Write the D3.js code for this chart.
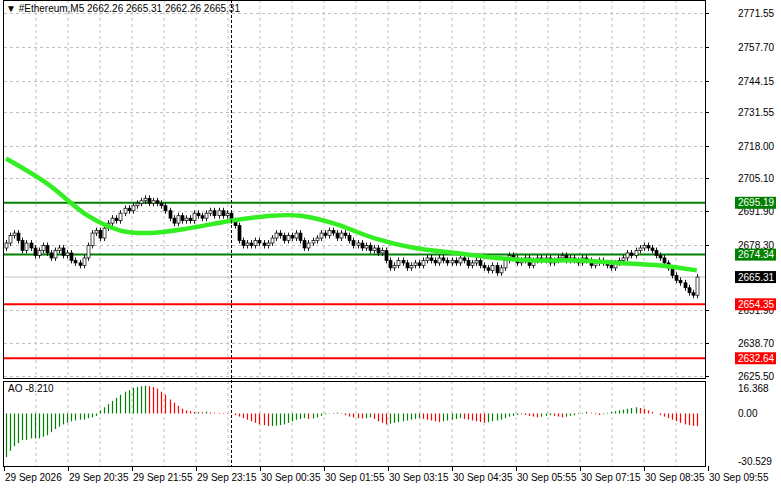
<!DOCTYPE html>
<html><head><meta charset="utf-8">
<script src="https://cdn.jsdelivr.net/npm/d3@7"></script>
<style>body{margin:0;background:#fff}text{font-family:"Liberation Sans",Arial,sans-serif;font-size:10px}</style>
</head><body>
<script>
// closes per 5-minute bar
var closes = [2679,2682,2683,2680,2676,2679,2677,
 2674,2676,2678,2675,2673,2676,2677,2674,2675,2672,2671,2670,
 2673,2678,2683,2684,2681,2685,
 2687,2689,2688,2691,2693,2692,2694,2695,
 2696,2697,2695,2696,2695,2694,2692,
 2689,2687,2690,2688,2689,2688,2691,2690,2689,
 2691,2692,2690,2692,2690,2691,2688,
 2686,2680,2678,2679,2678,2680,2679,2678,
 2679,2681,2683,2682,2680,
 2682,2681,2683,2680,2677,
 2679,2680,2681,2683,2682,2684,2683,2681,2683,
 2682,2680,2678,2679,2677,2678,2676,2677,2675,2676,
 2672,2669,2670,2672,2671,
 2669,2670,2671,2670,2672,2673,2672,2671,2673,2672,
 2671,2672,2671,2673,2672,2670,2671,2672,2670,
 2669,2668,2670,2667,2669,
 2672,2674,2673,2671,2672,2673,2670,2672,2673,2672,
 2673,2671,2672,2673,2674,2672,2673,2672,2671,2673,2672,2670,2671,2672,2671,
 2670,2669,2671,2672,2673,2675,2674,2676,2677,
 2678,2677,2676,
 2674,2673,2671,2669,2666,
 2664,2663,2661,2659,2658,2665.31];
var firstOpen = 2677;
var ao = [-28,-24,-21,-19,-17,-17,-16,-16,-16,
 -15,-14,-12,-10,-8.5,-7,
 -6,-5,-4.5,-4,-4,-3,-2.5,-1.5,
 2,4,6,8,10,12,14,15,16.5,17,17.5,17.8,
 17.5,17,16,14,12,9,7,5,3,2,1.5,1,
 1,0.8,1.2,0.6,0.5,0.4,0.3,0.2,0.1,
 -1,-2,-3,-4,-5,-6,-7,-7.5,-8,-8,-7.8,-7.5,
 -7,-6,-5,-4,-3.5,-3,-3.5,-3.2,-2.5,-1.5,-0.5,
 0.2,0.4,0.6,0.3,-1,-2,-2.5,
 -3,-3.2,-3,-2.5,-3.5,-5,-6,-7,-6.5,-6,
 -5.5,-5,-4.5,-4,-3.5,-3,-3.5,-4,-4.5,-5,-5.5,-5,-4.5,-4,-3.5,
 -3,-3.5,-4,-4.5,-5,-5.5,-6,-5.5,-5,-4.5,-4,-3,-2,-1.5,-1,
 -0.5,-1,-1.5,-2,-2.5,-2,-1.5,-1,-1.5,-2,-2.5,-2,-1.5,-1,-0.5,
 0.5,1,0.5,-0.5,-1,-0.5,0.5,1,1.5,2,2.5,3,3.5,4,3.5,
 3,2,1,0,-1,-2,-3,-4,-5,-6,-7,-7.5,-8,-8.21];
// moving average, sampled at bar indices
var maIdx = [0,10,20,28,35,45,55,65,72,80,90,100,110,120,130,140,150,160,169];
var maVal = [2713,2703,2690,2684,2683,2685,2688,2690,2690,2687,2681,2677,2675,2673,2672,2672,2671,2670,2668];
var priceTicks = [2771.55,2757.70,2744.15,2731.55,2718.00,2705.10,2691.90,2678.30,2651.90,2638.70,2625.50];
var aoTicks = [16.368,0.00,-30.529];
var levels = [{v:2695.19,c:"#008000"},{v:2674.34,c:"#008000"},{v:2654.35,c:"#ff0000"},{v:2632.64,c:"#ff0000"}];
var timeLabels = ["29 Sep 2026","29 Sep 20:35","29 Sep 21:55","29 Sep 23:15","30 Sep 00:35","30 Sep 01:55","30 Sep 03:15","30 Sep 04:35","30 Sep 05:55","30 Sep 07:15","30 Sep 08:35","30 Sep 09:55"];
var lastPrice = 2665.31;

var W = 781, H = 489, L = 4, R = 705;
var svg = d3.select("body").append("svg").attr("width", W).attr("height", H);
var x = d3.scaleLinear().domain([0, 171]).range([L + 2, R]);
var y = d3.scaleLinear().domain([2625.50, 2771.55]).range([376, 13]);
var ya = d3.scaleLinear().domain([-30.529, 16.368]).range([461, 388]);

var grid = svg.append("g").attr("stroke", "#c0c0c0").attr("stroke-dasharray", "3,3");
for (var gx = 36; gx < R; gx += 32) {
  grid.append("line").attr("x1", gx).attr("x2", gx).attr("y1", 0).attr("y2", 378);
  grid.append("line").attr("x1", gx).attr("x2", gx).attr("y1", 381).attr("y2", 466);
}
priceTicks.forEach(function(t) {
  grid.append("line").attr("x1", L).attr("x2", R).attr("y1", Math.round(y(t)) + 0.5).attr("y2", Math.round(y(t)) + 0.5);
});

svg.append("line").attr("x1", L).attr("x2", R).attr("y1", y(lastPrice)).attr("y2", y(lastPrice)).attr("stroke", "#c0c0c0");

levels.forEach(function(l) {
  svg.append("line").attr("x1", L).attr("x2", R).attr("y1", y(l.v)).attr("y2", y(l.v)).attr("stroke", l.c).attr("stroke-width", 2);
});

// candles
var cg = svg.append("g");
closes.forEach(function(c, i) {
  var o = i === 0 ? firstOpen : closes[i - 1];
  var hi = Math.max(o, c) + 1.2, lo = Math.min(o, c) - 1.2;
  var cx = Math.round(x(i)) + 0.5;
  cg.append("line").attr("x1", cx).attr("x2", cx).attr("y1", y(hi)).attr("y2", y(lo)).attr("stroke", "#000").attr("stroke-width", 0.9);
  var top = y(Math.max(o, c)), bot = y(Math.min(o, c));
  cg.append("rect").attr("x", cx - 1.5).attr("width", 3).attr("y", top).attr("height", Math.max(1, bot - top))
    .attr("fill", c >= o ? "#fff" : "#000").attr("stroke", "#000").attr("stroke-width", 0.7);
});

svg.append("path").datum(maIdx.map(function(d, k) { return [x(d), y(maVal[k])]; }))
  .attr("d", d3.line().curve(d3.curveCatmullRom)).attr("fill", "none").attr("stroke", "#33ee22").attr("stroke-width", 4.5);

// AO histogram
ao.forEach(function(v, i) {
  var cx = Math.round(x(i)) + 0.5;
  var up = i === 0 || v >= ao[i - 1];
  svg.append("line").attr("x1", cx).attr("x2", cx).attr("y1", ya(0)).attr("y2", ya(v))
    .attr("stroke", up ? "#008000" : "#ff0000").attr("stroke-width", 1.2);
});

svg.append("line").attr("x1", 231.5).attr("x2", 231.5).attr("y1", 0).attr("y2", 466).attr("stroke", "#000").attr("stroke-dasharray", "3,2");

// frames
svg.append("rect").attr("x", L - 0.5).attr("y", 0.5).attr("width", R - L + 1).attr("height", 378).attr("fill", "none").attr("stroke", "#000");
svg.append("rect").attr("x", L - 0.5).attr("y", 381.5).attr("width", R - L + 1).attr("height", 85).attr("fill", "none").attr("stroke", "#000");

// right axis
var ax = svg.append("g");
priceTicks.forEach(function(t) {
  var yy = Math.round(y(t)) + 0.5;
  ax.append("line").attr("x1", R).attr("x2", R + 4).attr("y1", yy).attr("y2", yy).attr("stroke", "#000");
  ax.append("text").attr("x", 738).attr("y", yy + 3.5).text(t.toFixed(2));
});
aoTicks.forEach(function(t) {
  var yy = Math.round(ya(t)) + 0.5;
  ax.append("text").attr("x", 738).attr("y", yy + 3.5).text(t === 0 ? "0.00" : String(t));
});
function tag(v, bg) {
  var yy = y(v);
  ax.append("rect").attr("x", 735).attr("y", yy - 6).attr("width", 41).attr("height", 12).attr("fill", bg);
  ax.append("text").attr("x", 738).attr("y", yy + 3.5).attr("fill", "#fff").text(v.toFixed(2));
}
levels.forEach(function(l) { tag(l.v, l.c); });
tag(lastPrice, "#000");

// time axis
timeLabels.forEach(function(t, k) {
  var tx = 4 + 64 * k;
  svg.append("line").attr("x1", tx + 0.5).attr("x2", tx + 0.5).attr("y1", 466).attr("y2", 471).attr("stroke", "#000");
  svg.append("text").attr("x", tx + 1).attr("y", 481).text(t);
});

svg.append("text").attr("x", 6).attr("y", 12).text("\u25BC #Ethereum,M5  2662.26 2665.31 2662.26 2665.31");
svg.append("text").attr("x", 8).attr("y", 392).text("AO -8.210");
</script>
</body></html>
